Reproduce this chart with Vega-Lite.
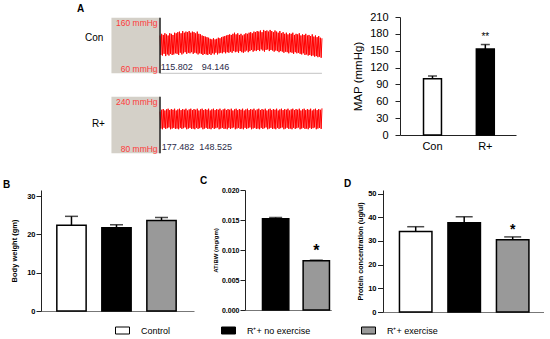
{
 "$schema": "https://vega.github.io/schema/vega-lite/v6.json",
 "background": "white",
 "padding": {"left": 3, "top": 3, "right": 0, "bottom": 0},
 "spacing": 21,
 "config": {
  "font": "Liberation Sans",
  "view": {"stroke": null},
  "axis": {"grid": false, "labelColor": "black", "titleColor": "black", "domainColor": "#222222", "tickColor": "#222222", "labelOverlap": false}
 },
 "datasets": {
  "calib": [
   {"trace": "Con", "lo": 60, "hi": 160, "hiLabel": "160 mmHg", "loLabel": "60 mmHg", "sys": "115.802", "dia": "94.146"},
   {"trace": "R+", "lo": 80, "hi": 240, "hiLabel": "240 mmHg", "loLabel": "80 mmHg", "sys": "177.482", "dia": "148.525"}
  ],
  "con": [
   {"t":0,"v":128},{"t":0.5,"v":93},{"t":1,"v":131},{"t":1.5,"v":92},{"t":2,"v":129},{"t":2.5,"v":95},{"t":3,"v":132},{"t":3.5,"v":91},{"t":4,"v":130},{"t":4.5,"v":94},
   {"t":5,"v":128},{"t":5.5,"v":92},{"t":6,"v":132},{"t":6.5,"v":95},{"t":7,"v":131},{"t":7.5,"v":93},{"t":8,"v":129},{"t":8.5,"v":94},{"t":9,"v":133},{"t":9.5,"v":96},
   {"t":10,"v":132},{"t":10.5,"v":95},{"t":11,"v":134},{"t":11.5,"v":93},{"t":12,"v":135},{"t":12.5,"v":97},{"t":13,"v":132},{"t":13.5,"v":94},{"t":14,"v":136},{"t":14.5,"v":96},
   {"t":15,"v":133},{"t":15.5,"v":98},{"t":16,"v":135},{"t":16.5,"v":95},{"t":17,"v":134},{"t":17.5,"v":97},{"t":18,"v":136},{"t":18.5,"v":96},{"t":19,"v":133},{"t":19.5,"v":98},
   {"t":20,"v":135},{"t":20.5,"v":95},{"t":21,"v":134},{"t":21.5,"v":97},{"t":22,"v":132},{"t":22.5,"v":96},{"t":23,"v":135},{"t":23.5,"v":94},{"t":24,"v":131},{"t":24.5,"v":96},
   {"t":25,"v":130},{"t":25.5,"v":95},{"t":26,"v":128},{"t":26.5,"v":93},{"t":27,"v":127},{"t":27.5,"v":95},{"t":28,"v":126},{"t":28.5,"v":94},{"t":29,"v":125},{"t":29.5,"v":93},
   {"t":30,"v":124},{"t":30.5,"v":95},{"t":31,"v":122},{"t":31.5,"v":93},{"t":32,"v":121},{"t":32.5,"v":96},{"t":33,"v":123},{"t":33.5,"v":94},{"t":34,"v":121},{"t":34.5,"v":97},
   {"t":35,"v":122},{"t":35.5,"v":94},{"t":36,"v":124},{"t":36.5,"v":96},{"t":37,"v":123},{"t":37.5,"v":97},{"t":38,"v":125},{"t":38.5,"v":96},{"t":39,"v":126},{"t":39.5,"v":98},
   {"t":40,"v":127},{"t":40.5,"v":96},{"t":41,"v":128},{"t":41.5,"v":98},{"t":42,"v":129},{"t":42.5,"v":97},{"t":43,"v":130},{"t":43.5,"v":99},{"t":44,"v":129},{"t":44.5,"v":97},
   {"t":45,"v":131},{"t":45.5,"v":100},{"t":46,"v":133},{"t":46.5,"v":98},{"t":47,"v":130},{"t":47.5,"v":99},{"t":48,"v":132},{"t":48.5,"v":97},{"t":49,"v":129},{"t":49.5,"v":100},
   {"t":50,"v":131},{"t":50.5,"v":98},{"t":51,"v":128},{"t":51.5,"v":97},{"t":52,"v":130},{"t":52.5,"v":99},{"t":53,"v":132},{"t":53.5,"v":101},{"t":54,"v":131},{"t":54.5,"v":98},
   {"t":55,"v":133},{"t":55.5,"v":100},{"t":56,"v":134},{"t":56.5,"v":102},{"t":57,"v":132},{"t":57.5,"v":99},{"t":58,"v":135},{"t":58.5,"v":101},{"t":59,"v":134},{"t":59.5,"v":100},
   {"t":60,"v":136},{"t":60.5,"v":102},{"t":61,"v":135},{"t":61.5,"v":100},{"t":62,"v":137},{"t":62.5,"v":103},{"t":63,"v":134},{"t":63.5,"v":101},{"t":64,"v":138},{"t":64.5,"v":99},
   {"t":65,"v":136},{"t":65.5,"v":102},{"t":66,"v":137},{"t":66.5,"v":103},{"t":67,"v":135},{"t":67.5,"v":100},{"t":68,"v":138},{"t":68.5,"v":102},{"t":69,"v":136},{"t":69.5,"v":101},
   {"t":70,"v":134},{"t":70.5,"v":99},{"t":71,"v":137},{"t":71.5,"v":101},{"t":72,"v":135},{"t":72.5,"v":100},{"t":73,"v":133},{"t":73.5,"v":98},{"t":74,"v":136},{"t":74.5,"v":100},
   {"t":75,"v":132},{"t":75.5,"v":99},{"t":76,"v":134},{"t":76.5,"v":97},{"t":77,"v":131},{"t":77.5,"v":99},{"t":78,"v":133},{"t":78.5,"v":98},{"t":79,"v":130},{"t":79.5,"v":96},
   {"t":80,"v":132},{"t":80.5,"v":98},{"t":81,"v":131},{"t":81.5,"v":97},{"t":82,"v":133},{"t":82.5,"v":95},{"t":83,"v":129},{"t":83.5,"v":98},{"t":84,"v":131},{"t":84.5,"v":96},
   {"t":85,"v":130},{"t":85.5,"v":97},{"t":86,"v":132},{"t":86.5,"v":95},{"t":87,"v":128},{"t":87.5,"v":94},{"t":88,"v":130},{"t":88.5,"v":96},{"t":89,"v":129},{"t":89.5,"v":93},
   {"t":90,"v":131},{"t":90.5,"v":94},{"t":91,"v":128},{"t":91.5,"v":92},{"t":92,"v":129},{"t":92.5,"v":93},{"t":93,"v":127},{"t":93.5,"v":91},{"t":94,"v":130},{"t":94.5,"v":92},
   {"t":95,"v":126},{"t":95.5,"v":90},{"t":96,"v":128},{"t":96.5,"v":91},{"t":97,"v":125},{"t":97.5,"v":89},{"t":98,"v":127},{"t":98.5,"v":90},{"t":99,"v":124},{"t":99.5,"v":88},{"t":100,"v":123}
  ],
  "rplus": [
   {"t":0,"v":198},{"t":0.5,"v":150},{"t":1,"v":203},{"t":1.5,"v":148},{"t":2,"v":205},{"t":2.5,"v":152},{"t":3,"v":201},{"t":3.5,"v":149},{"t":4,"v":204},{"t":4.5,"v":151},
   {"t":5,"v":206},{"t":5.5,"v":153},{"t":6,"v":202},{"t":6.5,"v":148},{"t":7,"v":205},{"t":7.5,"v":150},{"t":8,"v":203},{"t":8.5,"v":152},{"t":9,"v":206},{"t":9.5,"v":149},
   {"t":10,"v":201},{"t":10.5,"v":150},{"t":11,"v":204},{"t":11.5,"v":148},{"t":12,"v":206},{"t":12.5,"v":152},{"t":13,"v":202},{"t":13.5,"v":149},{"t":14,"v":205},{"t":14.5,"v":151},
   {"t":15,"v":203},{"t":15.5,"v":153},{"t":16,"v":206},{"t":16.5,"v":148},{"t":17,"v":201},{"t":17.5,"v":150},{"t":18,"v":204},{"t":18.5,"v":152},{"t":19,"v":206},{"t":19.5,"v":149},
   {"t":20,"v":202},{"t":20.5,"v":150},{"t":21,"v":205},{"t":21.5,"v":148},{"t":22,"v":203},{"t":22.5,"v":152},{"t":23,"v":206},{"t":23.5,"v":149},{"t":24,"v":201},{"t":24.5,"v":151},
   {"t":25,"v":204},{"t":25.5,"v":153},{"t":26,"v":206},{"t":26.5,"v":148},{"t":27,"v":202},{"t":27.5,"v":150},{"t":28,"v":205},{"t":28.5,"v":152},{"t":29,"v":203},{"t":29.5,"v":149},
   {"t":30,"v":206},{"t":30.5,"v":150},{"t":31,"v":201},{"t":31.5,"v":148},{"t":32,"v":204},{"t":32.5,"v":152},{"t":33,"v":206},{"t":33.5,"v":149},{"t":34,"v":202},{"t":34.5,"v":151},
   {"t":35,"v":205},{"t":35.5,"v":153},{"t":36,"v":203},{"t":36.5,"v":148},{"t":37,"v":206},{"t":37.5,"v":150},{"t":38,"v":201},{"t":38.5,"v":152},{"t":39,"v":204},{"t":39.5,"v":149},
   {"t":40,"v":206},{"t":40.5,"v":150},{"t":41,"v":202},{"t":41.5,"v":148},{"t":42,"v":205},{"t":42.5,"v":152},{"t":43,"v":203},{"t":43.5,"v":149},{"t":44,"v":206},{"t":44.5,"v":151},
   {"t":45,"v":201},{"t":45.5,"v":153},{"t":46,"v":204},{"t":46.5,"v":148},{"t":47,"v":206},{"t":47.5,"v":150},{"t":48,"v":202},{"t":48.5,"v":152},{"t":49,"v":205},{"t":49.5,"v":149},
   {"t":50,"v":203},{"t":50.5,"v":150},{"t":51,"v":206},{"t":51.5,"v":148},{"t":52,"v":201},{"t":52.5,"v":152},{"t":53,"v":204},{"t":53.5,"v":149},{"t":54,"v":206},{"t":54.5,"v":151},
   {"t":55,"v":202},{"t":55.5,"v":153},{"t":56,"v":205},{"t":56.5,"v":148},{"t":57,"v":203},{"t":57.5,"v":150},{"t":58,"v":206},{"t":58.5,"v":152},{"t":59,"v":201},{"t":59.5,"v":149},
   {"t":60,"v":204},{"t":60.5,"v":150},{"t":61,"v":206},{"t":61.5,"v":148},{"t":62,"v":202},{"t":62.5,"v":152},{"t":63,"v":205},{"t":63.5,"v":149},{"t":64,"v":203},{"t":64.5,"v":151},
   {"t":65,"v":206},{"t":65.5,"v":153},{"t":66,"v":201},{"t":66.5,"v":148},{"t":67,"v":204},{"t":67.5,"v":150},{"t":68,"v":206},{"t":68.5,"v":152},{"t":69,"v":202},{"t":69.5,"v":149},
   {"t":70,"v":205},{"t":70.5,"v":150},{"t":71,"v":203},{"t":71.5,"v":148},{"t":72,"v":206},{"t":72.5,"v":152},{"t":73,"v":201},{"t":73.5,"v":149},{"t":74,"v":204},{"t":74.5,"v":151},
   {"t":75,"v":206},{"t":75.5,"v":153},{"t":76,"v":202},{"t":76.5,"v":148},{"t":77,"v":205},{"t":77.5,"v":150},{"t":78,"v":203},{"t":78.5,"v":152},{"t":79,"v":206},{"t":79.5,"v":149},
   {"t":80,"v":201},{"t":80.5,"v":150},{"t":81,"v":204},{"t":81.5,"v":148},{"t":82,"v":206},{"t":82.5,"v":152},{"t":83,"v":202},{"t":83.5,"v":149},{"t":84,"v":205},{"t":84.5,"v":151},
   {"t":85,"v":203},{"t":85.5,"v":153},{"t":86,"v":206},{"t":86.5,"v":148},{"t":87,"v":201},{"t":87.5,"v":150},{"t":88,"v":204},{"t":88.5,"v":152},{"t":89,"v":206},{"t":89.5,"v":149},
   {"t":90,"v":202},{"t":90.5,"v":150},{"t":91,"v":205},{"t":91.5,"v":148},{"t":92,"v":203},{"t":92.5,"v":152},{"t":93,"v":206},{"t":93.5,"v":149},{"t":94,"v":201},{"t":94.5,"v":151},
   {"t":95,"v":204},{"t":95.5,"v":153},{"t":96,"v":206},{"t":96.5,"v":148},{"t":97,"v":202},{"t":97.5,"v":150},{"t":98,"v":205},{"t":98.5,"v":152},{"t":99,"v":203},{"t":99.5,"v":149},{"t":100,"v":207}
  ],
  "map": [
   {"group": "Con", "mean": 100, "upper": 105, "sig": ""},
   {"group": "R+", "mean": 153, "upper": 161, "sig": "**"}
  ],
  "bw": [
   {"group": "Control", "mean": 22.4, "upper": 24.7},
   {"group": "R⁺+ no exercise", "mean": 21.7, "upper": 22.5},
   {"group": "R⁺+ exercise", "mean": 23.6, "upper": 24.4}
  ],
  "atbw": [
   {"group": "R⁺+ no exercise", "mean": 0.0152, "upper": 0.0154, "sig": ""},
   {"group": "R⁺+ exercise", "mean": 0.0082, "upper": 0.0083, "sig": "*"}
  ],
  "prot": [
   {"group": "Control", "mean": 34.0, "upper": 36.0, "sig": ""},
   {"group": "R⁺+ no exercise", "mean": 37.7, "upper": 40.2, "sig": ""},
   {"group": "R⁺+ exercise", "mean": 30.5, "upper": 31.7, "sig": "*"}
  ]
 },
 "resolve": {"scale": {"fill": "independent", "x": "independent", "y": "independent"}, "legend": {"fill": "independent"}},
 "vconcat": [
  {
   "bounds": "flush",
   "spacing": 51,
   "resolve": {"scale": {"fill": "independent", "x": "independent", "y": "independent"}, "legend": {"fill": "independent"}},
   "hconcat": [
    {
     "width": 308, "height": 118,
     "title": {"text": "A", "anchor": "start", "frame": "group", "dx": 36, "offset": -7, "fontSize": 10, "fontWeight": "bold", "baseline": "bottom", "color": "black"},
     "resolve": {"scale": {"y": "independent"}},
     "layer": [
      {"layer": [
       {"data": {"name": "calib"}, "transform": [{"filter": "datum.trace === 'Con'"}],
        "mark": {"type": "rect", "fill": "#d4d0c8"},
        "encoding": {
         "x": {"datum": -30, "type": "quantitative", "scale": {"domain": [-73.5, 116.7], "nice": false, "zero": false}, "axis": null},
         "x2": {"datum": 0},
         "y": {"field": "lo", "type": "quantitative", "scale": {"domain": [-51.0, 161.3], "nice": false, "zero": false}, "axis": null},
         "y2": {"field": "hi"}}},
       {"data": {"name": "calib"}, "transform": [{"filter": "datum.trace === 'Con'"}],
        "mark": {"type": "rule", "color": "#c4c4c4", "strokeWidth": 1},
        "encoding": {"x": {"datum": 0, "type": "quantitative"}, "x2": {"datum": 100}, "y": {"field": "lo", "type": "quantitative"}}},
       {"data": {"name": "con"},
        "mark": {"type": "line", "color": "#ff0000", "strokeWidth": 1},
        "encoding": {"x": {"field": "t", "type": "quantitative"}, "y": {"field": "v", "type": "quantitative"}}},
       {"data": {"name": "calib"}, "transform": [{"filter": "datum.trace === 'Con'"}],
        "mark": {"type": "rule", "color": "#222222", "strokeWidth": 1.5},
        "encoding": {"x": {"datum": 0, "type": "quantitative"}, "y": {"field": "lo", "type": "quantitative"}, "y2": {"field": "hi"}}},
       {"data": {"name": "calib"}, "transform": [{"filter": "datum.trace === 'Con'"}],
        "mark": {"type": "text", "align": "right", "baseline": "middle", "dy": 5.5, "fontSize": 8.5, "color": "#ff3a3a"},
        "encoding": {"x": {"datum": -1.5, "type": "quantitative"}, "y": {"field": "hi", "type": "quantitative"}, "text": {"field": "hiLabel"}}},
       {"data": {"name": "calib"}, "transform": [{"filter": "datum.trace === 'Con'"}],
        "mark": {"type": "text", "align": "right", "baseline": "middle", "dy": -4, "fontSize": 8.5, "color": "#ff3a3a"},
        "encoding": {"x": {"datum": -1.5, "type": "quantitative"}, "y": {"field": "lo", "type": "quantitative"}, "text": {"field": "loLabel"}}},
       {"data": {"name": "calib"}, "transform": [{"filter": "datum.trace === 'Con'"}],
        "mark": {"type": "text", "align": "left", "baseline": "middle", "dy": -6.6, "fontSize": 9, "color": "#2a2a48"},
        "encoding": {"x": {"datum": 0.5, "type": "quantitative"}, "y": {"field": "lo", "type": "quantitative"}, "text": {"field": "sys"}}},
       {"data": {"name": "calib"}, "transform": [{"filter": "datum.trace === 'Con'"}],
        "mark": {"type": "text", "align": "left", "baseline": "middle", "dy": -6.6, "fontSize": 9, "color": "#2a2a48"},
        "encoding": {"x": {"datum": 25.7, "type": "quantitative"}, "y": {"field": "lo", "type": "quantitative"}, "text": {"field": "dia"}}},
       {"data": {"name": "calib"}, "transform": [{"filter": "datum.trace === 'Con'"}],
        "mark": {"type": "text", "align": "right", "baseline": "middle", "fontSize": 10, "color": "black"},
        "encoding": {"x": {"datum": -35, "type": "quantitative"}, "y": {"datum": 124, "type": "quantitative"}, "text": {"field": "trace"}}}
      ]},
      {"layer": [
       {"data": {"name": "calib"}, "transform": [{"filter": "datum.trace === 'R+'"}],
        "mark": {"type": "rect", "fill": "#d4d0c8"},
        "encoding": {
         "x": {"datum": -30, "type": "quantitative", "scale": {"domain": [-73.5, 116.7], "nice": false, "zero": false}, "axis": null},
         "x2": {"datum": 0},
         "y": {"field": "lo", "type": "quantitative", "scale": {"domain": [131.7, 465.3], "nice": false, "zero": false}, "axis": null},
         "y2": {"field": "hi"}}},
       {"data": {"name": "rplus"},
        "mark": {"type": "line", "color": "#ff0000", "strokeWidth": 1},
        "encoding": {"x": {"field": "t", "type": "quantitative"}, "y": {"field": "v", "type": "quantitative"}}},
       {"data": {"name": "calib"}, "transform": [{"filter": "datum.trace === 'R+'"}],
        "mark": {"type": "rule", "color": "#222222", "strokeWidth": 1.5},
        "encoding": {"x": {"datum": 0, "type": "quantitative"}, "y": {"field": "lo", "type": "quantitative"}, "y2": {"field": "hi"}}},
       {"data": {"name": "calib"}, "transform": [{"filter": "datum.trace === 'R+'"}],
        "mark": {"type": "text", "align": "right", "baseline": "middle", "dy": 5.5, "fontSize": 8.5, "color": "#ff3a3a"},
        "encoding": {"x": {"datum": -1.5, "type": "quantitative"}, "y": {"field": "hi", "type": "quantitative"}, "text": {"field": "hiLabel"}}},
       {"data": {"name": "calib"}, "transform": [{"filter": "datum.trace === 'R+'"}],
        "mark": {"type": "text", "align": "right", "baseline": "middle", "dy": -4, "fontSize": 8.5, "color": "#ff3a3a"},
        "encoding": {"x": {"datum": -1.5, "type": "quantitative"}, "y": {"field": "lo", "type": "quantitative"}, "text": {"field": "loLabel"}}},
       {"data": {"name": "calib"}, "transform": [{"filter": "datum.trace === 'R+'"}],
        "mark": {"type": "text", "align": "left", "baseline": "middle", "dy": -6.6, "fontSize": 9, "color": "#2a2a48"},
        "encoding": {"x": {"datum": 1, "type": "quantitative"}, "y": {"field": "lo", "type": "quantitative"}, "text": {"field": "sys"}}},
       {"data": {"name": "calib"}, "transform": [{"filter": "datum.trace === 'R+'"}],
        "mark": {"type": "text", "align": "left", "baseline": "middle", "dy": -6.6, "fontSize": 9, "color": "#2a2a48"},
        "encoding": {"x": {"datum": 24.3, "type": "quantitative"}, "y": {"field": "lo", "type": "quantitative"}, "text": {"field": "dia"}}},
       {"data": {"name": "calib"}, "transform": [{"filter": "datum.trace === 'R+'"}],
        "mark": {"type": "text", "align": "right", "baseline": "middle", "fontSize": 10, "color": "black"},
        "encoding": {"x": {"datum": -34, "type": "quantitative"}, "y": {"datum": 164, "type": "quantitative"}, "text": {"field": "trace"}}}
      ]}
     ]
    },
    {
     "width": 116, "height": 118,
     "data": {"name": "map"},
     "encoding": {
      "x": {"field": "group", "type": "nominal", "sort": null,
            "scale": {"paddingInner": 0.66, "paddingOuter": 0.428, "align": 0.52},
            "axis": {"title": null, "labelAngle": 0, "ticks": false, "labelPadding": 5, "labelFontSize": 11, "domainColor": "#222222"}}
     },
     "layer": [
      {"mark": {"type": "bar", "stroke": "black", "strokeWidth": 1.5},
       "encoding": {
        "y": {"field": "mean", "type": "quantitative", "scale": {"domain": [0, 210], "nice": false},
              "axis": {"values": [0, 30, 60, 90, 120, 150, 180, 210], "title": "MAP (mmHg)", "titleFontSize": 11.5, "titleFontWeight": "normal", "labelFontSize": 11, "tickSize": 5, "labelPadding": 7, "titlePadding": 6}},
        "fill": {"field": "group", "type": "nominal", "sort": null, "scale": {"domain": ["Con", "R+"], "range": ["white", "black"]}, "legend": null}}},
      {"mark": {"type": "rule", "color": "black", "strokeWidth": 1.5},
       "encoding": {"y": {"field": "mean", "type": "quantitative", "axis": {"values": [0, 30, 60, 90, 120, 150, 180, 210], "title": "MAP (mmHg)", "titleFontSize": 11.5, "titleFontWeight": "normal", "labelFontSize": 11, "tickSize": 5, "labelPadding": 7, "titlePadding": 6}}, "y2": {"field": "upper"}}},
      {"mark": {"type": "tick", "color": "black", "thickness": 1.5, "size": 9},
       "encoding": {"y": {"field": "upper", "type": "quantitative", "axis": {"values": [0, 30, 60, 90, 120, 150, 180, 210], "title": "MAP (mmHg)", "titleFontSize": 11.5, "titleFontWeight": "normal", "labelFontSize": 11, "tickSize": 5, "labelPadding": 7, "titlePadding": 6}}}},
      {"mark": {"type": "text", "baseline": "alphabetic", "dy": -5, "fontSize": 10, "color": "black"},
       "encoding": {"y": {"field": "upper", "type": "quantitative", "axis": {"values": [0, 30, 60, 90, 120, 150, 180, 210], "title": "MAP (mmHg)", "titleFontSize": 11.5, "titleFontWeight": "normal", "labelFontSize": 11, "tickSize": 5, "labelPadding": 7, "titlePadding": 6}}, "text": {"field": "sig"}}}
     ]
    }
   ]
  },
  {
   "bounds": "flush",
   "spacing": 51,
   "resolve": {"scale": {"fill": "independent", "x": "independent", "y": "independent"}, "legend": {"fill": "independent"}},
   "hconcat": [
    {
     "width": 153, "height": 121,
     "title": {"text": "B", "anchor": "start", "frame": "group", "dx": -38, "offset": -10, "fontSize": 10, "fontWeight": "bold", "baseline": "bottom", "color": "black"},
     "data": {"name": "bw"},
     "encoding": {
      "x": {"field": "group", "type": "nominal", "sort": null,
            "scale": {"paddingInner": 0.349, "paddingOuter": 0.374, "align": 0.47},
            "axis": {"title": null, "labels": false, "ticks": false, "domainColor": "#777777"}}
     },
     "layer": [
      {"mark": {"type": "bar", "stroke": "black", "strokeWidth": 1.5},
       "encoding": {
        "y": {"field": "mean", "type": "quantitative", "scale": {"domain": [0, 31.57], "nice": false},
              "axis": {"values": [0, 10, 20, 30], "title": "Body weight (gm)", "titleFontSize": 7.5, "titleFontWeight": "bold", "labelFontSize": 7.5, "labelFontWeight": "bold", "tickSize": 5, "labelPadding": 1, "titlePadding": 8}},
        "fill": {"field": "group", "type": "nominal", "sort": null,
                 "scale": {"domain": ["Control", "R⁺+ no exercise", "R⁺+ exercise"], "range": ["white", "black", "#999999"]},
                 "legend": {"title": null, "orient": "none", "legendX": 74, "legendY": 133, "direction": "horizontal",
                            "symbolType": "M-1,-0.5H1V0.5H-1Z", "symbolSize": 196, "symbolStrokeColor": "black", "symbolStrokeWidth": 1,
                            "labelFontSize": 9, "labelOffset": 11, "columnPadding": 48, "padding": 0, "labelColor": "black"}}}},
      {"mark": {"type": "rule", "color": "black", "strokeWidth": 1.5},
       "encoding": {"y": {"field": "mean", "type": "quantitative", "axis": {"values": [0, 10, 20, 30], "title": "Body weight (gm)", "titleFontSize": 7.5, "titleFontWeight": "bold", "labelFontSize": 7.5, "labelFontWeight": "bold", "tickSize": 5, "labelPadding": 1, "titlePadding": 8}}, "y2": {"field": "upper"}}},
      {"mark": {"type": "tick", "color": "black", "thickness": 1.5, "size": 13},
       "encoding": {"y": {"field": "upper", "type": "quantitative", "axis": {"values": [0, 10, 20, 30], "title": "Body weight (gm)", "titleFontSize": 7.5, "titleFontWeight": "bold", "labelFontSize": 7.5, "labelFontWeight": "bold", "tickSize": 5, "labelPadding": 1, "titlePadding": 8}}}}
     ]
    },
    {
     "width": 86.3, "height": 120,
     "title": {"text": "C", "anchor": "start", "frame": "group", "dx": -45, "offset": -10, "fontSize": 10, "fontWeight": "bold", "baseline": "bottom", "color": "black"},
     "data": {"name": "atbw"},
     "encoding": {
      "x": {"field": "group", "type": "nominal", "sort": null,
            "scale": {"paddingInner": 0.352, "paddingOuter": 0.2375, "align": 0.905},
            "axis": {"title": null, "labels": false, "ticks": false, "domainColor": "#777777"}}
     },
     "layer": [
      {"mark": {"type": "bar", "stroke": "black", "strokeWidth": 1.5},
       "encoding": {
        "y": {"field": "mean", "type": "quantitative", "scale": {"domain": [0, 0.02], "nice": false},
              "axis": {"values": [0, 0.005, 0.01, 0.015, 0.02], "format": ".3f", "title": "AT/BW (mg/gm)", "titleFontSize": 6, "titleFontWeight": "bold", "labelFontSize": 7, "labelFontWeight": "bold", "tickSize": 5, "labelPadding": 1, "titlePadding": 3}},
        "fill": {"field": "group", "type": "nominal", "sort": null,
                 "scale": {"domain": ["R⁺+ no exercise", "R⁺+ exercise"], "range": ["black", "#999999"]}, "legend": null}}},
      {"mark": {"type": "rule", "color": "black", "strokeWidth": 1.5},
       "encoding": {"y": {"field": "mean", "type": "quantitative", "axis": {"values": [0, 0.005, 0.01, 0.015, 0.02], "format": ".3f", "title": "AT/BW (mg/gm)", "titleFontSize": 6, "titleFontWeight": "bold", "labelFontSize": 7, "labelFontWeight": "bold", "tickSize": 5, "labelPadding": 1, "titlePadding": 3}}, "y2": {"field": "upper"}}},
      {"mark": {"type": "tick", "color": "black", "thickness": 1.5, "size": 13},
       "encoding": {"y": {"field": "upper", "type": "quantitative", "axis": {"values": [0, 0.005, 0.01, 0.015, 0.02], "format": ".3f", "title": "AT/BW (mg/gm)", "titleFontSize": 6, "titleFontWeight": "bold", "labelFontSize": 7, "labelFontWeight": "bold", "tickSize": 5, "labelPadding": 1, "titlePadding": 3}}}},
      {"mark": {"type": "text", "baseline": "alphabetic", "dy": -4.4, "fontSize": 16, "fontWeight": "bold", "color": "black"},
       "encoding": {"y": {"field": "upper", "type": "quantitative", "axis": {"values": [0, 0.005, 0.01, 0.015, 0.02], "format": ".3f", "title": "AT/BW (mg/gm)", "titleFontSize": 6, "titleFontWeight": "bold", "labelFontSize": 7, "labelFontWeight": "bold", "tickSize": 5, "labelPadding": 1, "titlePadding": 3}}, "text": {"field": "sig"}}}
     ]
    },
    {
     "width": 161, "height": 122,
     "title": {"text": "D", "anchor": "start", "frame": "group", "dx": -39, "offset": -9, "fontSize": 10, "fontWeight": "bold", "baseline": "bottom", "color": "black"},
     "data": {"name": "prot"},
     "encoding": {
      "x": {"field": "group", "type": "nominal", "sort": null,
            "scale": {"paddingInner": 0.33, "paddingOuter": 0.325, "align": 0.522},
            "axis": {"title": null, "labels": false, "ticks": false, "domainColor": "#777777"}}
     },
     "layer": [
      {"mark": {"type": "bar", "stroke": "black", "strokeWidth": 1.5},
       "encoding": {
        "y": {"field": "mean", "type": "quantitative", "scale": {"domain": [0, 51.5], "nice": false},
              "axis": {"values": [0, 10, 20, 30, 40, 50], "title": "Protein concentration (ug/ul)", "titleFontSize": 7.2, "titleFontWeight": "bold", "labelFontSize": 7.5, "labelFontWeight": "bold", "tickSize": 5.5, "labelPadding": 1.5, "titlePadding": 3}},
        "fill": {"field": "group", "type": "nominal", "sort": null,
                 "scale": {"domain": ["Control", "R⁺+ no exercise", "R⁺+ exercise"], "range": ["white", "black", "#999999"]}, "legend": null}}},
      {"mark": {"type": "rule", "color": "black", "strokeWidth": 1.5},
       "encoding": {"y": {"field": "mean", "type": "quantitative", "axis": {"values": [0, 10, 20, 30, 40, 50], "title": "Protein concentration (ug/ul)", "titleFontSize": 7.2, "titleFontWeight": "bold", "labelFontSize": 7.5, "labelFontWeight": "bold", "tickSize": 5.5, "labelPadding": 1.5, "titlePadding": 3}}, "y2": {"field": "upper"}}},
      {"mark": {"type": "tick", "color": "black", "thickness": 1.5, "size": 17},
       "encoding": {"y": {"field": "upper", "type": "quantitative", "axis": {"values": [0, 10, 20, 30, 40, 50], "title": "Protein concentration (ug/ul)", "titleFontSize": 7.2, "titleFontWeight": "bold", "labelFontSize": 7.5, "labelFontWeight": "bold", "tickSize": 5.5, "labelPadding": 1.5, "titlePadding": 3}}}},
      {"mark": {"type": "text", "baseline": "alphabetic", "dy": -2.8, "fontSize": 14, "fontWeight": "bold", "color": "black"},
       "encoding": {"y": {"field": "upper", "type": "quantitative", "axis": {"values": [0, 10, 20, 30, 40, 50], "title": "Protein concentration (ug/ul)", "titleFontSize": 7.2, "titleFontWeight": "bold", "labelFontSize": 7.5, "labelFontWeight": "bold", "tickSize": 5.5, "labelPadding": 1.5, "titlePadding": 3}}, "text": {"field": "sig"}}}
     ]
    }
   ]
  }
 ]
}
